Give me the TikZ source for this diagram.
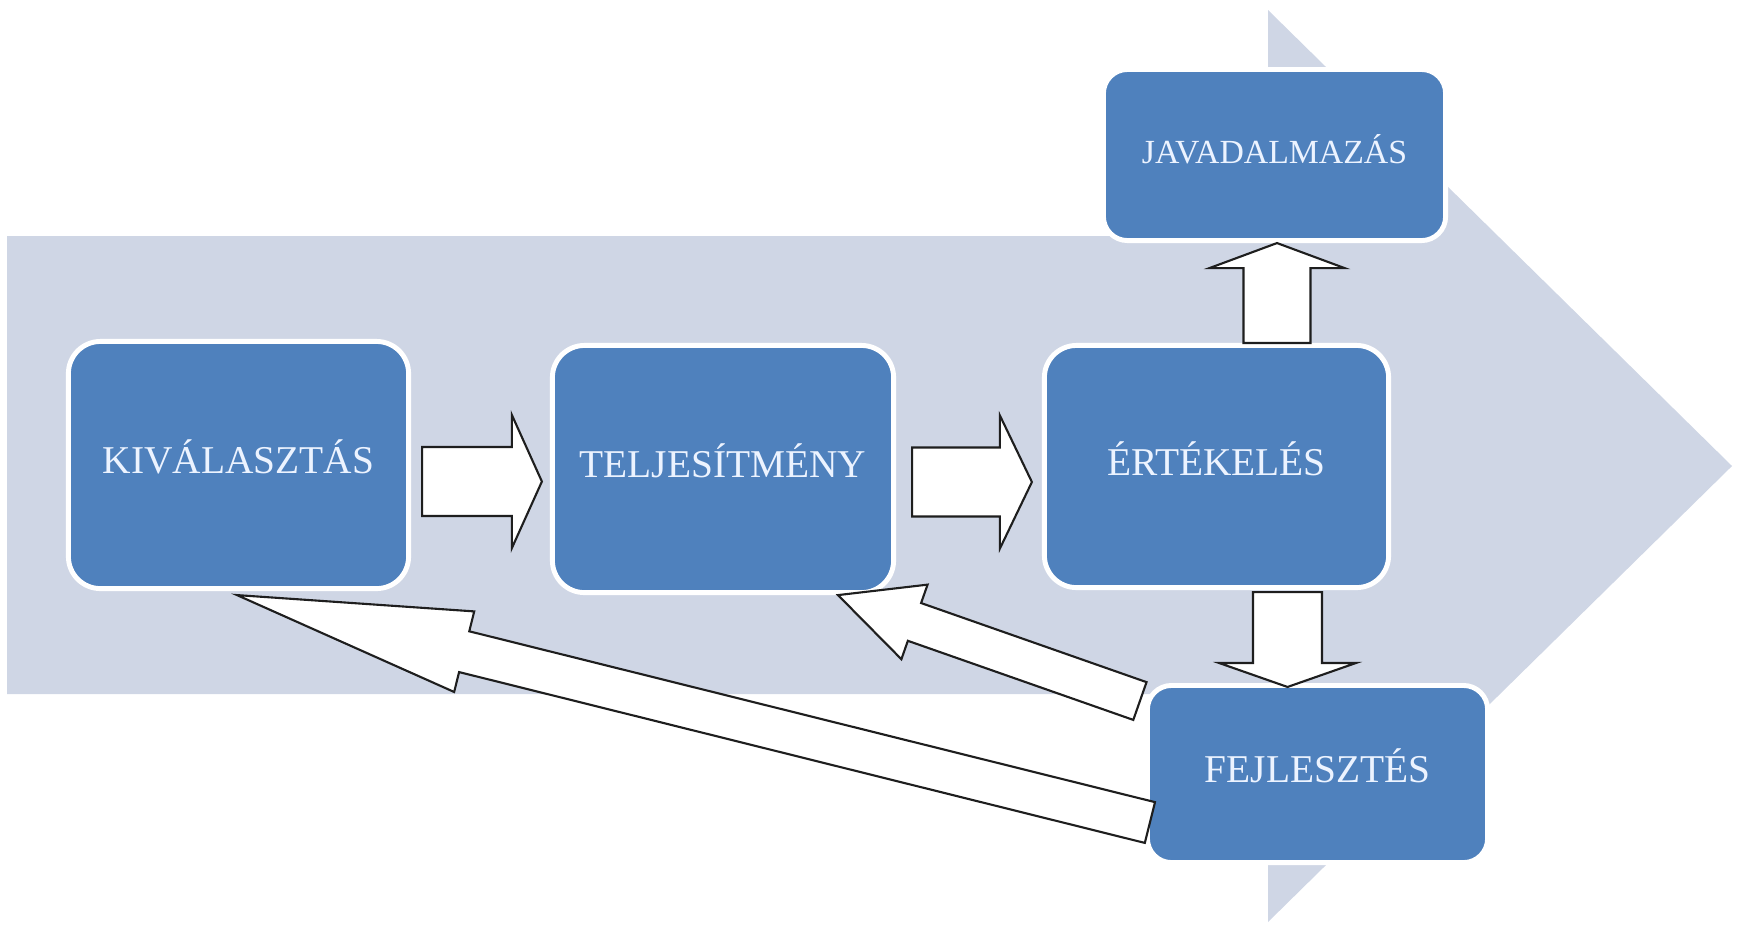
\documentclass[tikz,border=0pt]{standalone}
\usepackage{fontspec}
\setmainfont{Liberation Serif}
\usetikzlibrary{calc}
\definecolor{bgarrow}{RGB}{207,214,229}
\definecolor{boxblue}{RGB}{79,129,189}
\definecolor{boxtext}{RGB}{236,243,255}
\definecolor{arrline}{RGB}{30,30,30}
\tikzset{
  box/.style={rectangle, rounded corners=0.32cm, fill=boxblue, draw=white,
    line width=1.4pt, text=boxtext, font=\fontsize{11.2}{13}\selectfont,
    inner sep=0pt, outer sep=0pt, text height=0.7em, text depth=0.2em},
  smallbox/.style={box, rounded corners=0.24cm},
  blockarr/.style={fill=white, draw=arrline, line width=0.6pt, line join=miter},
}
\newcommand{\myblockarrow}[5]{%
  \coordinate (nk) at ($(#2)!#5!(#1)$);
  \draw[blockarr] ($(#1)!#3!90:(#2)$) -- ($(nk)!#3!90:(#2)$) -- ($(nk)!#4!90:(#2)$)
    -- (#2) -- ($(nk)!#4!-90:(#2)$) -- ($(nk)!#3!-90:(#2)$) -- ($(#1)!#3!-90:(#2)$) -- cycle;}
\begin{document}
\begin{tikzpicture}[x=0.01cm,y=-0.01cm]
\useasboundingbox (0,0) rectangle (1740,926);
% background arrow
\fill[bgarrow] (7,236) -- (1268,236) -- (1268,10) -- (1732,466) -- (1268,922) -- (1268,694) -- (7,694) -- cycle;
% boxes
\node[box, minimum width=3.40cm, minimum height=2.47cm] (K) at (238.5,465) {KIVÁLASZTÁS};
\node[box, minimum width=3.41cm, minimum height=2.47cm] (T) at (723,469) {TELJESÍTMÉNY};
\node[box, minimum width=3.44cm, minimum height=2.42cm] (E) at (1216.5,466.5) {ÉRTÉKELÉS};
\node[smallbox, minimum width=3.42cm, minimum height=1.71cm, font=\fontsize{9.6}{11}\selectfont] (J) at (1274.5,155) {JAVADALMAZÁS};
\node[smallbox, minimum width=3.40cm, minimum height=1.77cm] (F) at (1317.5,774) {FEJLESZTÉS};
% connector end points
\coordinate (a1s) at ($(K.east)+(13.5,16.5)$);
\coordinate (a1e) at ($(a1s -| T.west)+(-10.5,0)$);
\coordinate (a2s) at ($(T.east)+(18.5,13)$);
\coordinate (a2e) at ($(a2s -| E.west)+(-12.5,0)$);
\coordinate (a3s) at ($(J.south |- E.north)+(2.5,-2.5)$);
\coordinate (a3e) at ($(a3s |- J.south)+(0,2.5)$);
\coordinate (a4s) at ($(E.south)+(71,4.5)$);
\coordinate (a4e) at ($(a4s |- F.north)+(0,1.5)$);
\coordinate (a5s) at ($(F.west)+(-7.5,-73)$);
\coordinate (a5e) at ($(T.south)+(115,2.5)$);
\coordinate (a6s) at ($(F.west)+(2.5,48.5)$);
\coordinate (a6e) at ($(K.south)+(-1.5,6.5)$);
% block arrows
\myblockarrow{a1s}{a1e}{0.345cm}{0.665cm}{0.30cm}
\myblockarrow{a2s}{a2e}{0.345cm}{0.665cm}{0.32cm}
\myblockarrow{a3s}{a3e}{0.335cm}{0.675cm}{0.25cm}
\myblockarrow{a4s}{a4e}{0.345cm}{0.685cm}{0.24cm}
\myblockarrow{a5s}{a5e}{0.20cm}{0.395cm}{0.81cm}
\myblockarrow{a6s}{a6e}{0.21cm}{0.415cm}{2.34cm}
\end{tikzpicture}
\end{document}
